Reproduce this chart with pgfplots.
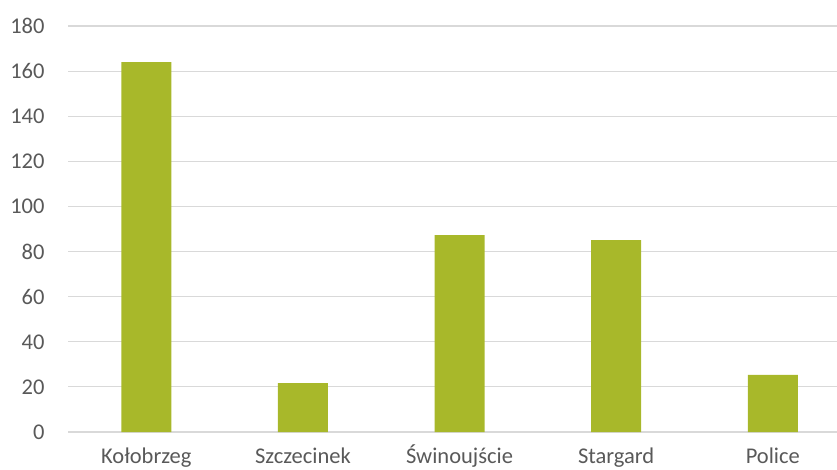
\documentclass[border=0pt]{standalone}
\usepackage{pgfplots}
\pgfplotsset{compat=1.18}
\usepackage{fontspec}
\setmainfont{Carlito}
\definecolor{barc}{HTML}{A8B82A}
\definecolor{gridc}{HTML}{D9D9D9}
\definecolor{txt}{HTML}{595959}
\begin{document}
\begin{tikzpicture}
\useasboundingbox (0,0) rectangle (837bp,470bp);
\begin{axis}[
  at={(68bp,38bp)}, anchor=south west,
  scale only axis, width=769bp, height=406bp,
  xmin=-0.5, xmax=4.41, ymin=0, ymax=180,
  ytick={0,20,...,180},
  xtick={0,1,2,3,4},
  xticklabels={Kołobrzeg,Szczecinek,Świnoujście,Stargard,Police},
  axis line style={draw=none},
  major tick length=0pt,
  ymajorgrids, grid style={gridc, line width=1.2bp},
  tick label style={font=\fontsize{22.5bp}{26bp}\selectfont, text=txt},
  /pgf/number format/assume math mode=true,
  yticklabel style={anchor=east, xshift=-20bp},
  xticklabel style={anchor=base, yshift=-31bp},
  clip=false,
]
\addplot[ybar, bar width=50bp, fill=barc, draw=none, bar shift=0pt] coordinates {
(0,164) (1,21.7) (2,87.3) (3,85.1) (4,25.3)
};
\end{axis}
\end{tikzpicture}
\end{document}
